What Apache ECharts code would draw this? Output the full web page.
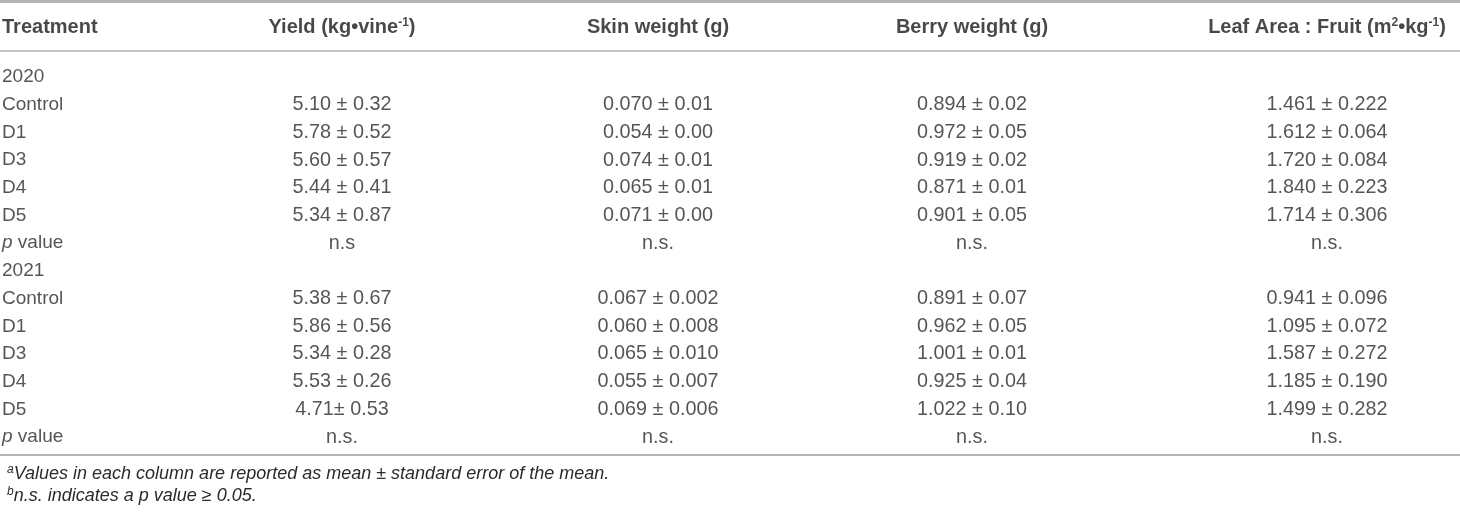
<!DOCTYPE html>
<html lang="en">
<head>
<meta charset="UTF-8">
<title>Yield components 2020-2021</title>
<style>
    html,
    body {
        margin: 0;
        padding: 0;
        width: 100%;
        height: 100%;
        background: #fff;
    }
</style>
</head>
<body>
<div id="main" style="width: 1460px;height:513px;"></div>
<script src="https://cdn.jsdelivr.net/npm/echarts@6/dist/echarts.min.js"></script>
<script type="text/javascript">
    // table content
    var headers = ['Treatment', 'Yield (kg\u2022vine{s|-1})', 'Skin weight (g)', 'Berry weight (g)', 'Leaf Area : Fruit (m{s|2}\u2022kg{s|-1})'];
    var years = ['2020', '2021'];
    var treatments = ['Control', 'D1', 'D3', 'D4', 'D5'];

    var yield2020 = ['5.10 \u00b1 0.32', '5.78 \u00b1 0.52', '5.60 \u00b1 0.57', '5.44 \u00b1 0.41', '5.34 \u00b1 0.87'];
    var skin2020 = ['0.070 \u00b1 0.01', '0.054 \u00b1 0.00', '0.074 \u00b1 0.01', '0.065 \u00b1 0.01', '0.071 \u00b1 0.00'];
    var berry2020 = ['0.894 \u00b1 0.02', '0.972 \u00b1 0.05', '0.919 \u00b1 0.02', '0.871 \u00b1 0.01', '0.901 \u00b1 0.05'];
    var leaf2020 = ['1.461 \u00b1 0.222', '1.612 \u00b1 0.064', '1.720 \u00b1 0.084', '1.840 \u00b1 0.223', '1.714 \u00b1 0.306'];
    var p2020 = ['n.s', 'n.s.', 'n.s.', 'n.s.'];

    var yield2021 = ['5.38 \u00b1 0.67', '5.86 \u00b1 0.56', '5.34 \u00b1 0.28', '5.53 \u00b1 0.26', '4.71\u00b1 0.53'];
    var skin2021 = ['0.067 \u00b1 0.002', '0.060 \u00b1 0.008', '0.065 \u00b1 0.010', '0.055 \u00b1 0.007', '0.069 \u00b1 0.006'];
    var berry2021 = ['0.891 \u00b1 0.07', '0.962 \u00b1 0.05', '1.001 \u00b1 0.01', '0.925 \u00b1 0.04', '1.022 \u00b1 0.10'];
    var leaf2021 = ['0.941 \u00b1 0.096', '1.095 \u00b1 0.072', '1.587 \u00b1 0.272', '1.185 \u00b1 0.190', '1.499 \u00b1 0.282'];
    var p2021 = ['n.s.', 'n.s.', 'n.s.', 'n.s.'];

    var footnotes = [
        '{s|a}{t|Values in each column are reported as mean \u00b1 standard error of the mean.}',
        '{s|b}{t|n.s. indicates a p value \u2265 0.05.}'
    ];

    // layout (pixels on the x axis, row units on the y axis)
    var colX = [2, 342, 658, 972, 1327];
    var rowPx = 27.7, firstRowPx = 77;
    var headerRow = (27 - firstRowPx) / rowPx;
    var rules = [
        { px: 1, width: 3 },
        { px: 51, width: 1.5 },
        { px: 455, width: 2 }
    ];
    var font = "'Liberation Sans', Arial, Helvetica, sans-serif";

    // build rows: year label, treatments, p value
    var rows = [];
    function addYear(year, cols, pv) {
        rows.push([year, '', '', '', '']);
        treatments.forEach(function (t, i) {
            rows.push([t, cols[0][i], cols[1][i], cols[2][i], cols[3][i]]);
        });
        rows.push(['p value'].concat(pv));
    }
    addYear(years[0], [yield2020, skin2020, berry2020, leaf2020], p2020);
    addYear(years[1], [yield2021, skin2021, berry2021, leaf2021], p2021);

    var bodyRich = {
        i: { fontStyle: 'italic', fontFamily: font, fontSize: 19, color: '#2b2b2b' }
    };

    var series = [];
    for (var c = 0; c < 5; c++) {
        var data = [];
        rows.forEach(function (r, i) {
            if (r[c] !== '') data.push([colX[c], i, r[c]]);
        });
        series.push({
            type: 'scatter',
            symbolSize: 0,
            silent: true,
            data: data,
            label: {
                show: true,
                position: 'inside',
                align: c === 0 ? 'left' : 'center',
                verticalAlign: 'middle',
                fontFamily: font,
                fontSize: c === 0 ? 19 : 19.8,
                color: '#2b2b2b',
                rich: bodyRich,
                formatter: function (p) {
                    var t = p.value[2];
                    return t === 'p value' ? '{i|p} value' : t;
                }
            }
        });
    }

    // header row with the horizontal rules
    series.push({
        type: 'scatter',
        symbolSize: 0,
        silent: true,
        data: headers.map(function (h, c) { return [colX[c], headerRow, h]; }),
        label: {
            show: true,
            position: 'inside',
            align: 'center',
            verticalAlign: 'middle',
            fontFamily: font,
            fontSize: 20,
            fontWeight: 'bold',
            color: '#1a1a1a',
            formatter: function (p) { return p.value[2]; },
            rich: {
                s: { fontFamily: font, fontSize: 12, fontWeight: 'bold', color: '#1a1a1a', verticalAlign: 'top', padding: [0, 0, 8, 0] }
            }
        },
        labelLayout: function (params) {
            return params.dataIndex === 0 ? { x: colX[0], align: 'left' } : {};
        },
        markLine: {
            silent: true,
            symbol: ['none', 'none'],
            label: { show: false },
            data: rules.map(function (r) {
                return {
                    yAxis: (r.px - firstRowPx) / rowPx,
                    lineStyle: { color: '#b3b3b3', width: r.width, type: 'solid' }
                };
            })
        }
    });

    var myChart = echarts.init(document.getElementById('main'));
    var option = {
        animation: false,
        backgroundColor: '#fff',
        grid: { left: 0, right: 0, top: 0, bottom: 0 },
        xAxis: { type: 'value', min: 0, max: 1460, show: false },
        yAxis: {
            type: 'value',
            inverse: true,
            min: -firstRowPx / rowPx,
            max: (513 - firstRowPx) / rowPx,
            show: false
        },
        title: footnotes.map(function (f, k) {
            return {
                text: f,
                left: 2,
                top: 459 + k * 22,
                textStyle: {
                    fontWeight: 'normal',
                    rich: {
                        s: { fontFamily: font, fontSize: 12, fontStyle: 'italic', fontWeight: 'normal', color: '#2b2b2b', verticalAlign: 'top', padding: [0, 0, 8, 0] },
                        t: { fontFamily: font, fontSize: 18, fontStyle: 'italic', fontWeight: 'normal', color: '#2b2b2b' }
                    }
                }
            };
        }),
        series: series
    };
    myChart.setOption(option);
    window.addEventListener("resize", function () {
        myChart.resize();
    });
</script>
</body>
</html>
